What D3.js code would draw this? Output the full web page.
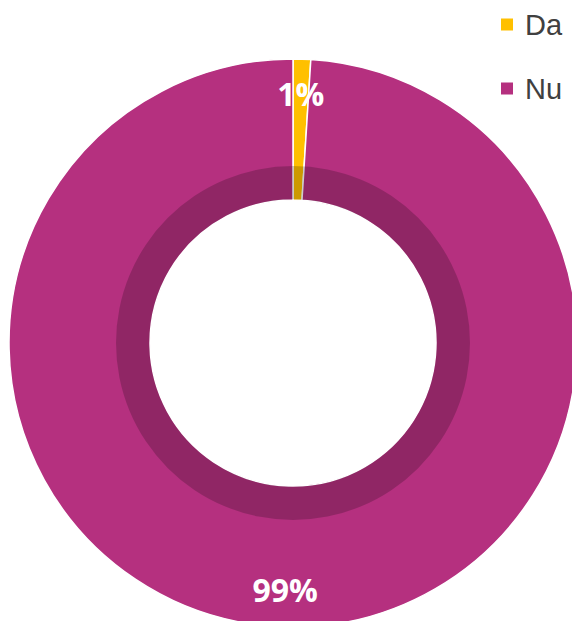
<!DOCTYPE html>
<html>
<head>
<meta charset="utf-8">
<script src="https://cdn.jsdelivr.net/npm/d3@7"></script>
<style>
  html, body { margin: 0; padding: 0; background: #fff; }
  svg { display: block; }
</style>
</head>
<body>
<svg width="572" height="621"></svg>
<script>
var categories = ["Da", "Nu"];
var values = [1, 99];
var colorList = ["#FFC000", "#B5307F"];

var svg = d3.select("svg"),
    width = +svg.attr("width"),
    height = +svg.attr("height");

var cx = 293, cy = 343,
    outerR = 284, innerR = 143, shadeR = 177;

var color = d3.scaleOrdinal().domain(categories).range(colorList);

var data = categories.map(function (c, i) { return {name: c, value: values[i]}; });
var total = d3.sum(values);

var pie = d3.pie()
    .value(function (d) { return d.value; })
    .sort(null);

var arc = d3.arc().innerRadius(innerR).outerRadius(outerR);
var labelArc = d3.arc().innerRadius(248).outerRadius(248);

var g = svg.append("g").attr("transform", "translate(" + cx + "," + cy + ")");

var arcs = pie(data);

g.selectAll(".slice")
    .data(arcs)
    .enter()
    .append("path")
    .attr("class", "slice")
    .attr("d", arc)
    .attr("fill", function (d) { return color(d.data.name); })
    .attr("stroke", "#fff")
    .attr("stroke-width", 1.5);

// darker inner band (kept off the white edge of the hole)
g.append("path")
    .attr("d", d3.arc().innerRadius(innerR + 0.8).outerRadius(shadeR).startAngle(0).endAngle(2 * Math.PI)())
    .attr("fill", "#000")
    .attr("fill-opacity", 0.2);

g.selectAll(".label")
    .data(arcs)
    .enter()
    .append("text")
    .attr("class", "label")
    .attr("transform", function (d) { return "translate(" + labelArc.centroid(d) + ")"; })
    .attr("dy", "0.35em")
    .attr("text-anchor", "middle")
    .style("font-family", "'Open Sans', sans-serif")
    .style("font-weight", "bold")
    .style("font-size", "32px")
    .attr("fill", "#fff")
    .text(function (d) { return Math.round(d.data.value / total * 100) + "%"; });

// legend
var legend = svg.selectAll(".legend")
    .data(categories)
    .enter()
    .append("g")
    .attr("class", "legend")
    .attr("transform", function (d, i) { return "translate(501," + (18.5 + i * 64) + ")"; });

legend.append("rect")
    .attr("width", 12)
    .attr("height", 12)
    .attr("fill", function (d) { return color(d); });

legend.append("text")
    .attr("x", 24)
    .attr("y", 16)
    .style("font-family", "'Liberation Sans Narrow', 'Liberation Sans', sans-serif")
    .style("font-size", "29px")
    .attr("fill", "#404040")
    .text(function (d) { return d; });
</script>
</body>
</html>
